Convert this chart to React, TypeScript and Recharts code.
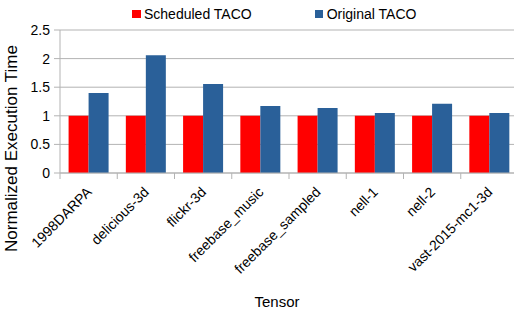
import { BarChart, Bar, XAxis, YAxis, CartesianGrid, Legend } from 'recharts'

const tensors = [
  '1998DARPA',
  'delicious-3d',
  'flickr-3d',
  'freebase_music',
  'freebase_sampled',
  'nell-1',
  'nell-2',
  'vast-2015-mc1-3d',
]
const scheduledTaco = [1, 1, 1, 1, 1, 1, 1, 1]
const originalTaco = [1.4, 2.06, 1.555, 1.17, 1.135, 1.05, 1.21, 1.05]
const yTicks = [0, 0.5, 1, 1.5, 2, 2.5]

const data = tensors.map((name, i) => ({
  name,
  scheduled: scheduledTaco[i],
  original: originalTaco[i],
}))

const RED = '#ff0000'
const BLUE = '#2a6099'
const GRID = '#b3b3b3'
const FONT = '"Liberation Sans", Arial, sans-serif'

const CHART_W = 520
const MARGIN = { top: 30, right: 2, left: 0, bottom: 0 }
const Y_W = 60
const BAND = (CHART_W - MARGIN.left - MARGIN.right - Y_W) / tensors.length

const TensorTick = ({ x, y, payload }: { x?: number; y?: number; payload?: { value: string } }) => {
  const px = x ?? 0
  const py = y ?? 0
  return (
    <g>
      <line x1={px - BAND / 2} y1={py} x2={px - BAND / 2} y2={py + 6} stroke={GRID} />
      <text
        x={px + 4}
        y={py + 20}
        textAnchor="end"
        fontSize={14}
        fontFamily={FONT}
        fill="#000"
        transform={`rotate(-45, ${px + 4}, ${py + 20})`}
      >
        {payload?.value}
      </text>
    </g>
  )
}

function TacoLegend() {
  const items = [
    { label: 'Scheduled TACO', color: RED },
    { label: 'Original TACO', color: BLUE },
  ]
  return (
    <div style={{ display: 'flex', paddingLeft: 132, gap: 63, fontFamily: FONT, fontSize: 14 }}>
      {items.map((item) => (
        <div key={item.label} style={{ display: 'flex', alignItems: 'center' }}>
          <div style={{ width: 8.5, height: 8.5, background: item.color, marginRight: 3.5 }} />
          <span style={{ color: '#000', lineHeight: '16px' }}>{item.label}</span>
        </div>
      ))}
    </div>
  )
}

export default function App() {
  return (
    <div style={{ position: 'fixed', left: 0, top: 0, width: 514, height: 317, overflow: 'hidden', background: '#fff' }}>
      <BarChart
        width={CHART_W}
        height={317}
        data={data}
        margin={MARGIN}
        barCategoryGap="15%"
        barGap={0}
      >
        <CartesianGrid vertical={false} stroke={GRID} />
        <XAxis
          dataKey="name"
          interval={0}
          height={144}
          axisLine={{ stroke: GRID }}
          tickLine={false}
          tickSize={0}
          tickMargin={0}
          tick={<TensorTick />}
          label={{
            content: () => (
              <text x={277} y={307} textAnchor="middle" fontSize={15} fontFamily={FONT} fill="#000">
                Tensor
              </text>
            ),
          }}
        />
        <YAxis
          width={Y_W}
          domain={[0, 2.5]}
          ticks={yTicks}
          interval={0}
          axisLine={{ stroke: GRID }}
          tickLine={{ stroke: GRID }}
          tickSize={6}
          tickMargin={4}
          tick={{ fontSize: 14, fontFamily: FONT, fill: '#000' }}
          label={{
            content: () => (
              <text
                x={16.5}
                y={148.5}
                textAnchor="middle"
                fontSize={17}
                fontFamily={FONT}
                fill="#000"
                transform="rotate(-90, 16.5, 148.5)"
              >
                Normalized Execution Time
              </text>
            ),
          }}
        />
        <Legend
          layout="horizontal"
          verticalAlign="middle"
          content={<TacoLegend />}
          wrapperStyle={{ top: 6, left: 0, width: CHART_W }}
        />
        <Bar dataKey="scheduled" name="Scheduled TACO" fill={RED} isAnimationActive={false} />
        <Bar dataKey="original" name="Original TACO" fill={BLUE} isAnimationActive={false} />
      </BarChart>
    </div>
  )
}
